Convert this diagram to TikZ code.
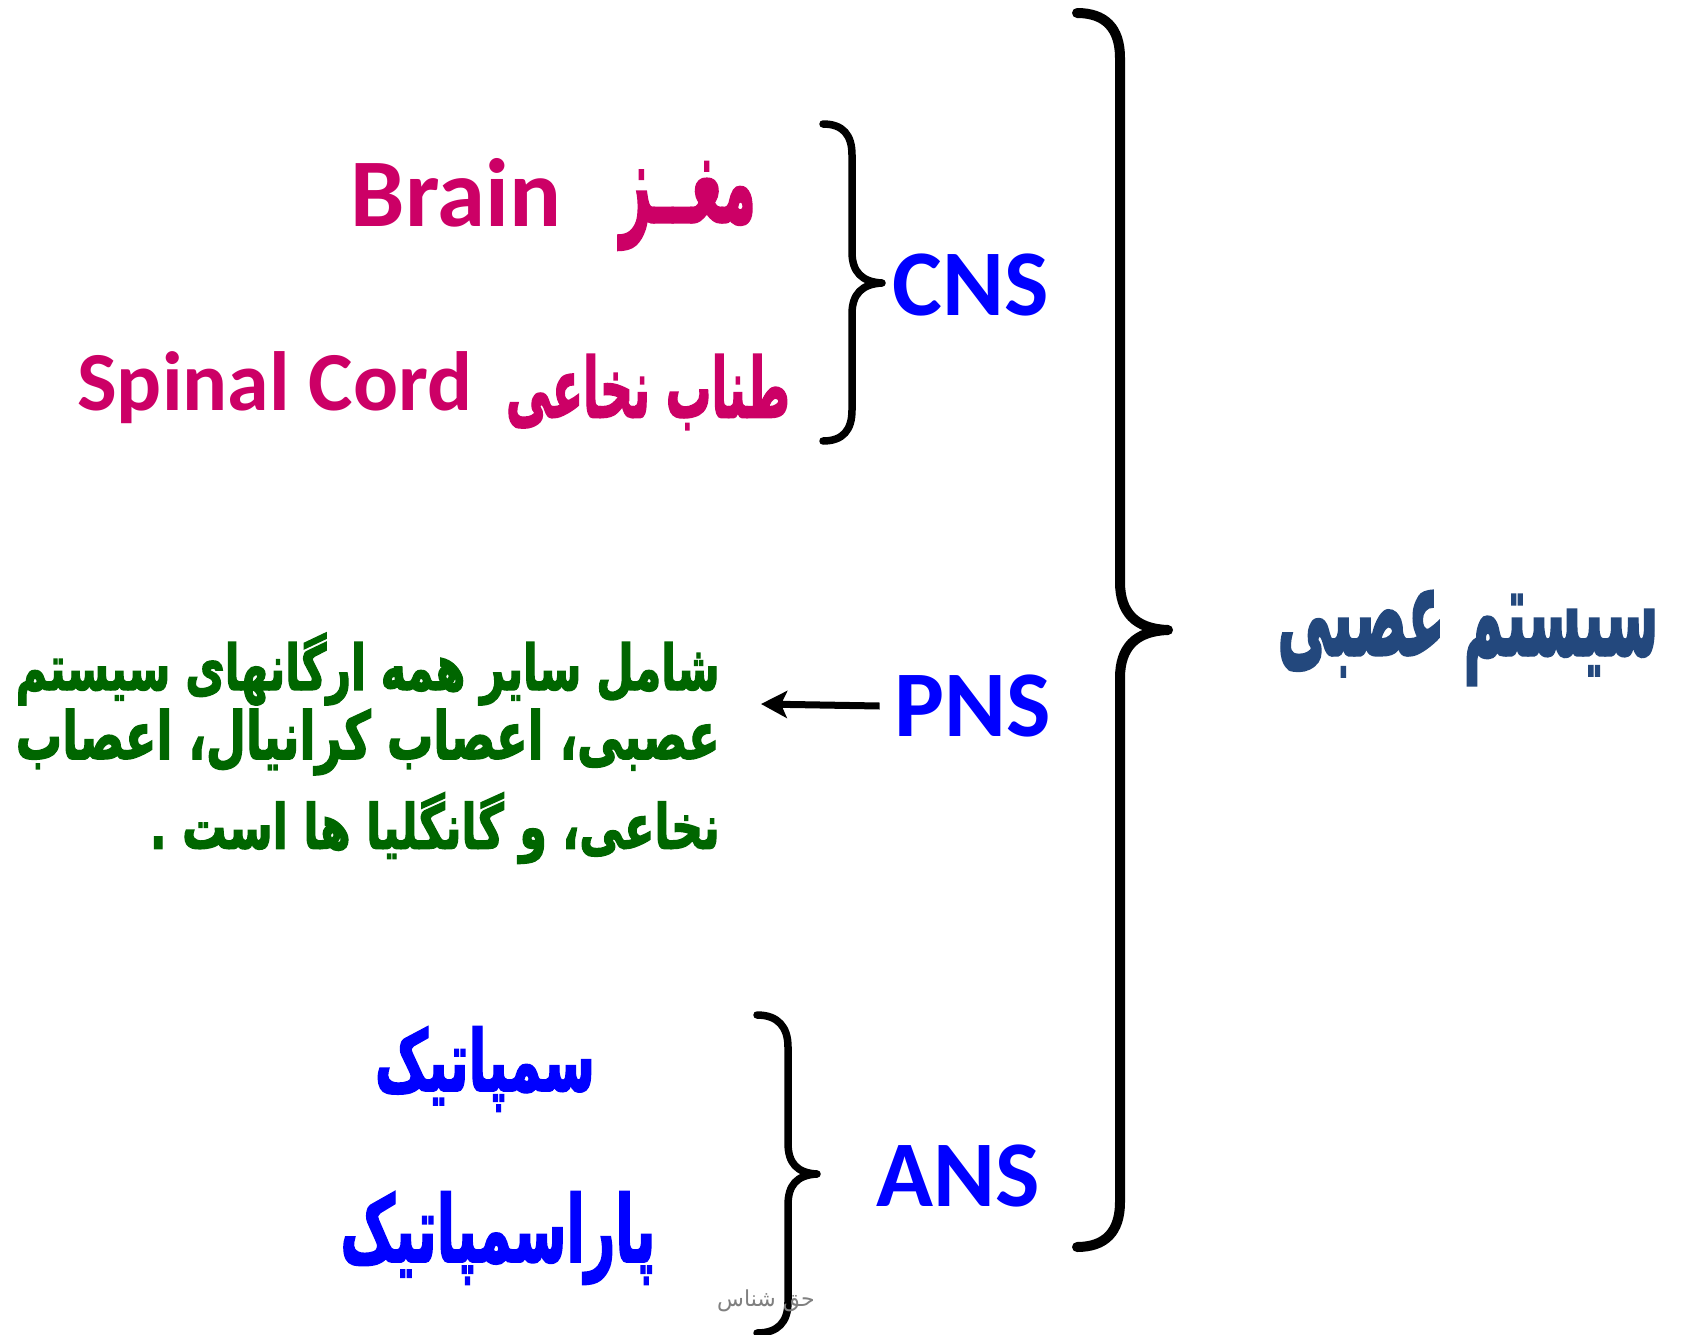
\documentclass[tikz,border=0pt]{standalone}
\usepackage{fontspec}
\usepackage{graphicx}
\setmainfont{Carlito}
\newfontfamily\arab[Script=Arabic, FakeBold=2.5]{DejaVu Sans Bold}
\TeXXeTstate=1
\usetikzlibrary{arrows.meta}
\definecolor{cblue}{RGB}{0,0,255}
\definecolor{cmag}{RGB}{204,0,102}
\definecolor{cgreen}{RGB}{0,102,0}
\definecolor{ctitle}{RGB}{35,72,125}
\definecolor{cgray}{RGB}{128,128,128}
\newfontfamily\arabthin[Script=Arabic]{DejaVu Sans}
% fit an RTL text into a box of given width and height (pt)
\newcommand{\fitar}[3]{\resizebox{#1pt}{#2pt}{\arab\fontsize{60}{70}\selectfont #3}}
\tikzset{
  lat/.style={inner sep=0pt, font=\bfseries\fontsize{94}{100}\selectfont},
  ar/.style={inner sep=0pt},
  brace/.style={line width=#1, line cap=round, line join=round},
}
\begin{document}
\begin{tikzpicture}[x=1pt,y=-1pt]
\useasboundingbox[fill=white] (0,0) rectangle (1681,1335);

% big brace
\draw[brace=10pt] (1077,13) .. controls (1105,13) and (1120,28) .. (1120,58) -- (1120,582)
  .. controls (1120,612) and (1135,629) .. (1168,630)
  .. controls (1135,631) and (1120,648) .. (1120,678) -- (1120,1202)
  .. controls (1120,1232) and (1105,1247) .. (1077,1247);

% CNS brace
\draw[brace=7.5pt] (823,124) .. controls (843,124) and (852,135) .. (852,155) -- (852,252)
  .. controls (852,272) and (862,282) .. (882,283)
  .. controls (862,284) and (852,294) .. (852,314) -- (852,410)
  .. controls (852,430) and (843,441) .. (823,441);

% ANS brace
\draw[brace=7.5pt] (757,1015) .. controls (778,1015) and (788,1027) .. (788,1047) -- (788,1143)
  .. controls (788,1163) and (797,1173) .. (817,1174)
  .. controls (797,1175) and (788,1185) .. (788,1205) -- (788,1302)
  .. controls (788,1322) and (778,1333) .. (757,1333);

% labels
\node[lat, text=cblue] (cns) at (971,285) {CNS};
\node[lat, text=cblue] (pns) at (973,706) {PNS};
\node[lat, text=cblue] (ans) at (958,1176) {ANS};

\node[inner sep=0pt, text=cmag, font=\bfseries\fontsize{97}{100}\selectfont] (brain) at (456,193) {Brain};
\node[ar, text=cmag] (maghz) at (688,206) {\fitar{136}{60}{\beginR مغــز\endR}};
\node[inner sep=0pt, text=cmag, font=\bfseries\fontsize{84}{90}\selectfont, anchor=west] (spinal) at (77,388) {Spinal Cord};
\node[ar, text=cmag] (tanab) at (648,392) {\fitar{284}{63}{\beginR طناب نخاعی\endR}};

% green paragraph
\node[ar, text=cgreen, anchor=east] (g1) at (720,669) {\fitar{704}{57}{\beginR شامل سایر همه ارگانهای سیستم\endR}};
\node[ar, text=cgreen, anchor=east] (g2) at (720,742) {\fitar{704}{50}{\beginR عصبی، اعصاب کرانیال، اعصاب\endR}};
\node[ar, text=cgreen, anchor=east] (g3) at (720,828) {\fitar{570}{56}{\beginR نخاعی، و گانگلیا ها است .\endR}};

\coordinate (pnsend) at (761,704);
\draw[line width=7pt, -{Stealth[length=26pt,width=27pt,inset=6pt]}] ([xshift=-15pt]pns.west) -- (pnsend);

% ANS items
\node[ar, text=cblue] (sym) at (485,1069) {\fitar{220}{64}{\beginR سمپاتیک\endR}};
\node[ar, text=cblue] (para) at (498,1238) {\fitar{315}{70}{\beginR پاراسمپاتیک\endR}};

% title
\node[ar, text=ctitle] (title) at (1468,638) {\fitar{381}{64}{\beginR سیستم عصبی\endR}};

% watermark
\node[ar, text=cgray, font=\arabthin\fontsize{22}{26}\selectfont] (wm) at (766,1301) {\beginR حق شناس\endR};
\end{tikzpicture}
\end{document}
